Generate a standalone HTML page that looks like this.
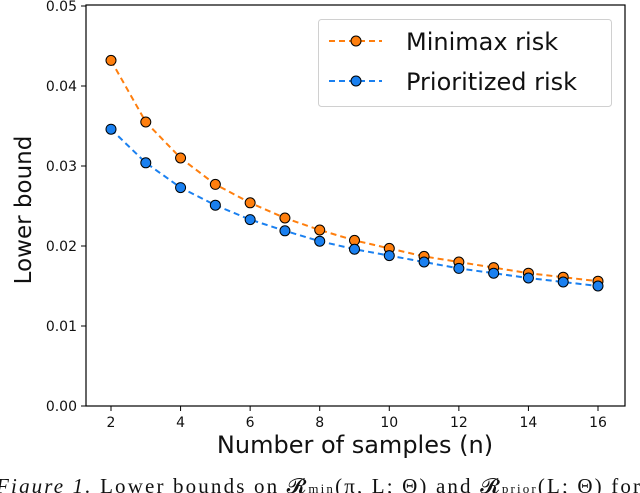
<!DOCTYPE html>
<html><head><meta charset="utf-8"><style>
body{margin:0;background:#fff;}
svg{display:block;font-family:"DejaVu Sans","Liberation Sans",sans-serif;}
</style></head><body>
<svg id="chart" width="640" height="493" xmlns="http://www.w3.org/2000/svg">
<g id="axes"></g>
<g id="series"></g>
<g>
<rect x="318.5" y="19.5" width="293" height="87" rx="3" fill="#fff" stroke="#d0d0d0"/>
<g>
<line x1="329" y1="41" x2="382" y2="41" stroke="#ff7f0e" stroke-width="2" stroke-dasharray="6,4"/>
<circle cx="356" cy="41" r="5" fill="#ff7f0e" stroke="#000" stroke-width="1"/>
<text x="406" y="50" font-size="24" fill="#111">Minimax risk</text>
</g>
<g>
<line x1="329" y1="81" x2="382" y2="81" stroke="#1a80f0" stroke-width="2" stroke-dasharray="6,4"/>
<circle cx="356" cy="81" r="5" fill="#1a80f0" stroke="#000" stroke-width="1"/>
<text x="406" y="90" font-size="24" fill="#111">Prioritized risk</text>
</g>
</g>
<text x="355" y="453" font-size="24" text-anchor="middle" fill="#111">Number of samples (n)</text>
<text transform="translate(31,210) rotate(-90)" font-size="23" text-anchor="middle" fill="#111">Lower bound</text>
<text x="-4" y="493" font-size="21" font-family="Liberation Serif,serif" fill="#111" textLength="644" lengthAdjust="spacing"><tspan font-style="italic">Figure 1.</tspan> Lower bounds on 𝓡<tspan font-size="13">min</tspan>(π, L; Θ) and 𝓡<tspan font-size="13">prior</tspan>(L; Θ) for</text>
</svg>
<script>
const ns="http://www.w3.org/2000/svg";
const nValues=[2,3,4,5,6,7,8,9,10,11,12,13,14,15,16];
const minimaxRisk=[0.0432,0.0355,0.0310,0.0277,0.0254,0.0235,0.0220,0.0207,0.0197,0.0187,0.0180,0.0173,0.0166,0.0161,0.0156];
const prioritizedRisk=[0.0346,0.0304,0.0273,0.0251,0.0233,0.0219,0.0206,0.0196,0.0188,0.0180,0.0172,0.0166,0.0160,0.0155,0.0150];
const xTicks=[2,4,6,8,10,12,14,16];
const yTicks=[0,0.01,0.02,0.03,0.04,0.05];
const yTickLabels=["0.00","0.01","0.02","0.03","0.04","0.05"];
const L=86,R=625,T=6,B=406;
function xs(v){return 111+(v-2)*(598-111)/14;}
function ys(v){return B-(v/0.05)*(B-T);}
function mk(tag,attrs,parent){const e=document.createElementNS(ns,tag);for(const k in attrs)e.setAttribute(k,attrs[k]);parent.appendChild(e);return e;}
const ax=document.getElementById('axes');
const frame=mk('rect',{x:L,y:T-1,width:R-L,height:B-T+1,fill:'none',stroke:'#000','stroke-width':1.2},ax);


xTicks.forEach(t=>{
  const x=xs(t);
  mk('line',{x1:x,y1:B,x2:x,y2:B+5,stroke:'#000'},ax);
  const tx=mk('text',{x:x,y:B+21,'font-size':14,'text-anchor':'middle',fill:'#111'},ax);
  tx.textContent=t;
  
  
});
yTicks.forEach((t,i)=>{
  const y=ys(t);
  mk('line',{x1:L-5,y1:y,x2:L,y2:y,stroke:'#000'},ax);
  const tx=mk('text',{x:L-9,y:y+5,'font-size':14,'text-anchor':'end',fill:'#111'},ax);
  tx.textContent=yTickLabels[i];
  
  
});
const sg=document.getElementById('series');
function drawSeries(vals,color,name){
  const g=mk('g',{},sg);
  
  
  const pts=vals.map((v,i)=>xs(nValues[i])+','+ys(v)).join(' ');
  mk('polyline',{points:pts,fill:'none',stroke:color,'stroke-width':2,'stroke-dasharray':'6,4'},g);
  vals.forEach((v,i)=>{
    const c=mk('circle',{cx:xs(nValues[i]),cy:ys(v),r:5,fill:color,stroke:'#000','stroke-width':1},g);
    
    
  });
}
drawSeries(minimaxRisk,'#ff7f0e','minimax-risk-series');
drawSeries(prioritizedRisk,'#1a80f0','prioritized-risk-series');
</script>
</body></html>
